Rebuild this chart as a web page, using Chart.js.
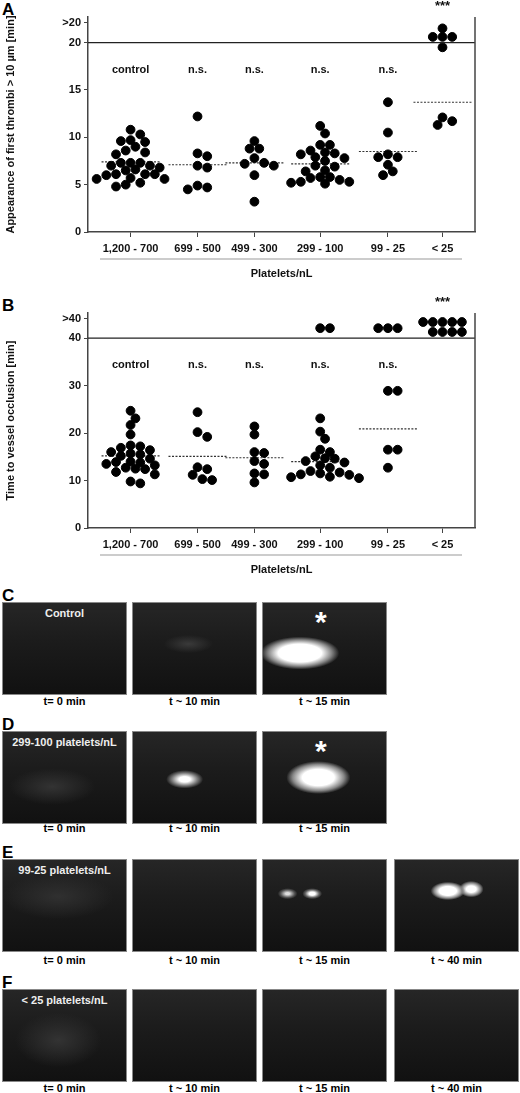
<!DOCTYPE html>
<html><head><meta charset="utf-8">
<script src="https://cdn.jsdelivr.net/npm/chart.js@4"></script>
<style>
body{margin:0;background:#fff;width:520px;height:1093px;position:relative;overflow:hidden;font-family:"Liberation Sans",Arial,sans-serif;}
.box{position:absolute;}
.let{position:absolute;font-weight:bold;font-size:17px;left:2px;}
.img{position:absolute;border:1px solid #888;box-sizing:border-box;background:#1b1b1b;overflow:hidden}
.cap{position:absolute;font-weight:bold;font-size:11px;text-align:center;width:125px}
.in{position:absolute;color:#eee;font-weight:bold;font-size:11px;top:4px;left:0;right:0;text-align:center}
.ast{position:absolute;color:#fff;font-size:30px;font-weight:bold}
</style></head><body>
<div class="let" style="top:0">A</div>
<div class="box" style="left:0;top:0;width:520px;height:285px"><canvas id="cA"></canvas></div>
<div class="let" style="top:296px">B</div>
<div class="box" style="left:0;top:296px;width:520px;height:285px"><canvas id="cB"></canvas></div>
<div id="imgs"></div>
<script>
// ---- data ----
const categories = ["1,200 - 700","699 - 500","499 - 300","299 - 100","99 - 25","< 25"];
const sigLabels = ["control","n.s.","n.s.","n.s.","n.s.",""];
const starLabel = "***";
const thrombiCtrl = [10.8,10.3,9.7,9.6,9.5,9.0,8.6,8.4,8.2,7.3,7.3,7.3,7.0,7.0,6.8,6.6,6.5,6.1,6.1,6.1,6.0,5.7,5.6,5.6,5.2,5.0,4.8];
const thrombi699 = [12.2,8.3,8.0,7.0,6.8,4.9,4.7,4.5];
const thrombi499 = [9.6,8.8,8.8,7.8,7.3,7.2,7.0,6.0,3.2];
const thrombi299 = [11.2,10.4,9.2,9.2,8.6,8.4,8.3,8.2,7.9,7.8,7.5,7.0,6.9,6.5,6.4,5.8,5.8,5.7,5.5,5.3,5.3,5.2,5.1];
const thrombi99 = [13.7,10.5,8.2,7.9,7.9,7.1,6.4,6.0];
const thrombiLt25 = [21.5,20.6,20.6,20.6,19.5,12.1,11.7,11.3];
const thrombiMeans = [7.4,7.1,7.3,7.2,8.5,13.7];
const occlCtrl = [24.7,23.1,21.7,19.7,17.4,17.2,16.9,16.4,16.0,15.7,15.5,15.2,14.6,14.0,13.9,13.8,13.5,13.2,12.7,12.5,12.4,11.8,11.3,9.8,9.4];
const occl699 = [24.4,20.2,19.2,12.8,12.4,11.2,10.3,10.1];
const occl499 = [21.4,19.7,16.0,15.8,14.1,13.5,11.5,11.3,9.6];
const occl299 = [42.1,42.1,23.1,20.3,18.8,16.5,16.0,15.1,14.7,14.6,14.1,13.8,13.2,12.7,12.0,11.7,11.5,11.3,11.2,10.8,10.7,10.5];
const occl99 = [42.1,42.1,42.1,28.9,28.9,16.5,16.5,12.7];
const occlLt25 = [43.4,43.4,43.4,43.4,43.4,41.3,41.3,41.3,41.3];
const occlMeans = [15.2,15.1,14.8,14.0,20.9,null];
const yTicksA = [0,5,10,15,20], yBreakA = 20;
const yTicksB = [0,10,20,30,40], yBreakB = 40;

// ---- layout ----
const catPos = [11,28.3,43,60,77.5,91.6];
const FONT = "Liberation Sans";

function swarm(groups, yPxPerUnit){
  const xPxPerUnit = 386/100, d = 7.8;
  const out = [];
  groups.forEach((vals,gi)=>{
    const placed = [];
    vals.map(v=>v).sort((a,b)=>b-a).forEach(v=>{
      for(let k=0;k<30;k++){
        const off = (k%2?1:-1)*Math.ceil(k/2)*0.62*d;
        const ok = placed.every(p=>Math.hypot(p[0]-off,(p[1]-v)*yPxPerUnit)>=d);
        if(ok){placed.push([off,v]);out.push({x:catPos[gi]+off/xPxPerUnit,y:v});break;}
      }
    });
  });
  return out;
}

function makeChart(id, groups, means, ticks, brk, maxY, breakLabel, sigY, title, yPx){
  const pts = swarm(groups, yPx);
  const meanSets = means.map((m,i)=> m==null?null:({type:'line',data:[{x:catPos[i]-7.5,y:m},{x:catPos[i]+7.5,y:m}],
     borderColor:'#333',borderWidth:1.2,borderDash:[2,1.5],pointRadius:0}) ).filter(Boolean);
  const tickVals = ticks.concat([brk + (maxY-brk)*0.78]);
  const ann = {id:'ann'+id, afterDatasetsDraw(c){
    const ctx=c.ctx, a=c.chartArea, ys=c.scales.y, xs=c.scales.x;
    ctx.save();
    ctx.strokeStyle='#222';ctx.lineWidth=1.3;
    const yb=ys.getPixelForValue(brk);
    ctx.beginPath();ctx.moveTo(a.left,yb);ctx.lineTo(a.right,yb);ctx.stroke();
    ctx.strokeStyle='#444';ctx.lineWidth=1.5;
    ctx.beginPath();ctx.moveTo(a.right,a.top);ctx.lineTo(a.right,a.bottom);ctx.stroke();
    ctx.fillStyle='#111';ctx.font='bold 11px '+FONT;ctx.textAlign='center';ctx.textBaseline='middle';
    sigLabels.forEach((s,i)=>{ if(s) ctx.fillText(s,xs.getPixelForValue(catPos[i]),ys.getPixelForValue(sigY)); });
    ctx.font='bold 13px '+FONT;
    ctx.fillText(starLabel,xs.getPixelForValue(catPos[5]),a.top-11);
    ctx.strokeStyle='#999';ctx.lineWidth=1;
    ctx.beginPath();ctx.moveTo(100,a.bottom+27);ctx.lineTo(462,a.bottom+27);ctx.stroke();
    ctx.restore();
  }};
  return new Chart(document.getElementById(id),{
    type:'scatter',
    data:{datasets:[{data:pts,backgroundColor:'#000',borderColor:'#000',pointRadius:4.4,pointHoverRadius:4.4}].concat(meanSets)},
    plugins:[ann],
    options:{responsive:true,maintainAspectRatio:false,animation:false,
      layout:{padding:{top:17,right:45,left:0,bottom:0}},
      plugins:{legend:{display:false},tooltip:{enabled:false}},
      scales:{
        x:{type:'linear',min:0,max:100,
          afterBuildTicks:s=>{s.ticks=catPos.map(v=>({value:v}));},
          afterFit:s=>{s.height=53;},
          grid:{drawOnChartArea:false,tickLength:5,color:'#444'},
          border:{color:'#444',width:1.5},
          ticks:{callback:(v,i)=>categories[i],color:'#111',font:{family:FONT,weight:'bold',size:11},padding:5,maxRotation:0,autoSkip:false},
          title:{display:true,text:'Platelets/nL',color:'#111',font:{family:FONT,weight:'bold',size:11},padding:{top:6}}},
        y:{min:0,max:maxY,
          afterBuildTicks:s=>{s.ticks=tickVals.map(v=>({value:v}));},
          afterFit:s=>{s.width=88;},
          grid:{drawOnChartArea:false,tickLength:4,color:'#444'},
          border:{color:'#444',width:1.5},
          ticks:{callback:(v,i)=> i<ticks.length?String(ticks[i]):breakLabel,color:'#111',font:{family:FONT,weight:'bold',size:11},padding:3},
          title:{display:true,text:title,color:'#111',font:{family:FONT,weight:'bold',size:11},padding:{bottom:4}}}
      }}
  });
}
makeChart('cA',[thrombiCtrl,thrombi699,thrombi499,thrombi299,thrombi99,thrombiLt25],thrombiMeans,yTicksA,yBreakA,22.7,'>20',17.1,'Appearance of first thrombi > 10 µm [min]',9.6);
makeChart('cB',[occlCtrl,occl699,occl499,occl299,occl99,occlLt25],occlMeans,yTicksB,yBreakB,45.3,'>40',34.4,'Time to vessel occlusion [min]',4.8);

// ---- micrograph panels (illustrative) ----
const rows=[
 {L:'C',ly:586,top:602,cap:703,n:3,label:'Control',caps:['t= 0 min','t ~ 10 min','t ~ 15 min'],glow:[null,'radial-gradient(ellipse 20% 10% at 45% 45%,#3a3a3a,transparent)','radial-gradient(ellipse 32% 18% at 30% 55%,#fff 55%,#888 80%,transparent)'],star:[2]},
 {L:'D',ly:715,top:731,cap:830,n:3,label:'299-100 platelets/nL',caps:['t= 0 min','t ~ 10 min','t ~ 15 min'],glow:['radial-gradient(ellipse 35% 20% at 40% 60%,#333,transparent)','radial-gradient(ellipse 15% 10% at 42% 52%,#fff 30%,#777 70%,transparent)','radial-gradient(ellipse 26% 18% at 45% 50%,#fff 50%,#888 80%,transparent)'],star:[2]},
 {L:'E',ly:843,top:859,cap:962,n:4,label:'99-25 platelets/nL',caps:['t= 0 min','t ~ 10 min','t ~ 15 min','t ~ 40 min'],glow:['radial-gradient(ellipse 45% 25% at 45% 40%,#303030,transparent)',null,'radial-gradient(ellipse 8% 6% at 40% 37%,#fff 30%,#666 70%,transparent),radial-gradient(ellipse 8% 6% at 20% 37%,#ddd 20%,#555 70%,transparent)','radial-gradient(ellipse 14% 10% at 43% 34%,#fff 50%,#888 80%,transparent),radial-gradient(ellipse 10% 9% at 62% 32%,#fff 40%,#777 80%,transparent)'],star:[]},
 {L:'F',ly:973,top:989,cap:1090,n:4,label:'< 25 platelets/nL',caps:['t= 0 min','t ~ 10 min','t ~ 15 min','t ~ 40 min'],glow:['radial-gradient(ellipse 35% 30% at 45% 55%,#333,transparent)',null,null,null],star:[]}
];
const xs=[2,132,262,394];
let h='';
rows.forEach(r=>{
  h+=`<div class="let" style="top:${r.ly}px">${r.L}</div>`;
  for(let i=0;i<r.n;i++){
    const bg=(r.glow[i]?r.glow[i]+',':'')+'linear-gradient(#262626,#1c1c1c 40%,#111)';
    h+=`<div class="img" style="left:${xs[i]}px;top:${r.top}px;width:125px;height:93px;background:${bg}">`+
       (i==0?`<div class="in">${r.label}</div>`:'')+
       (r.star.includes(i)?`<div class="ast" style="left:52px;top:2px">*</div>`:'')+`</div>`;
    h+=`<div class="cap" style="left:${xs[i]}px;top:${r.cap-8}px">${r.caps[i]}</div>`;
  }
});
document.getElementById('imgs').innerHTML=h;
</script>
</body></html>
